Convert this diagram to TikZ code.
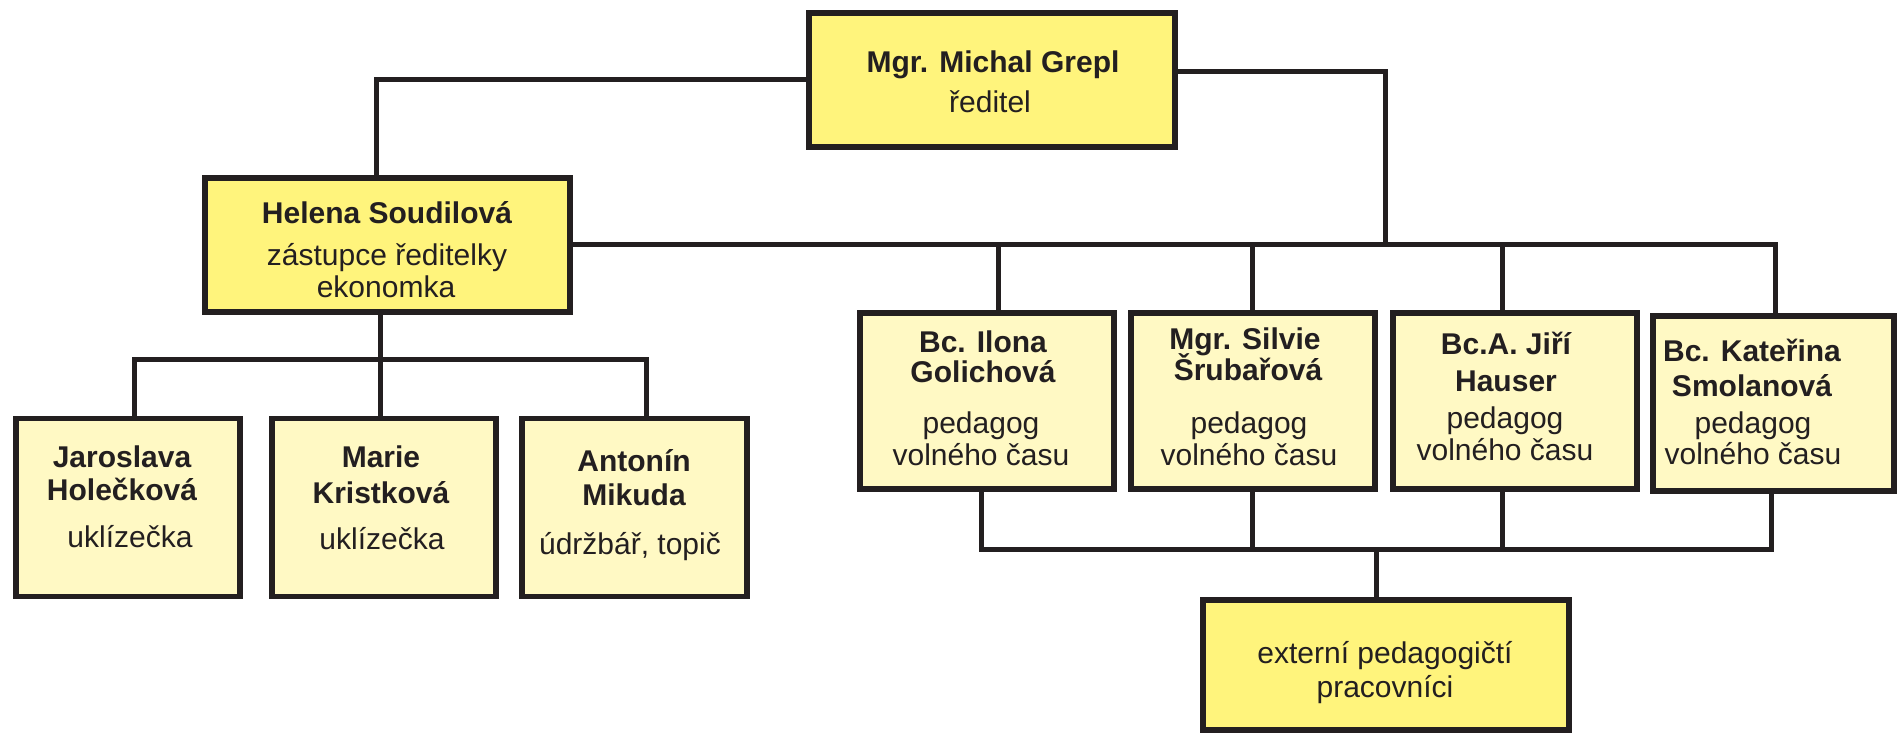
\documentclass[tikz,border=0pt]{standalone}
\usepackage{fontspec}
\setmainfont{Liberation Sans}
\definecolor{ink}{HTML}{231F20}
\definecolor{ybright}{HTML}{FFF47C}
\definecolor{ypale}{HTML}{FFF9C4}
\begin{document}
\begin{tikzpicture}[x=1pt,y=-1pt,
  box/.style={draw=ink, line width=5.5pt, inner sep=0pt, anchor=center},
  hi/.style={box, fill=ybright},
  lo/.style={box, fill=ypale},
  conn/.style={draw=ink, line width=5pt, line cap=rect, line join=miter},
  nm/.style={font=\fontsize{30}{32}\selectfont\bfseries, anchor=base, inner sep=0pt, text=ink},
  rl/.style={font=\fontsize{30}{32}\selectfont, anchor=base, inner sep=0pt, text=ink}]
\useasboundingbox[fill=white] (0,0) rectangle (1899,736);

% boxes
\node[hi, minimum width=366pt, minimum height=134pt] (dir) at (992,80) {};
\node[hi, minimum width=365pt, minimum height=134pt] (hel) at (387.5,245) {};
\node[lo, minimum width=224pt, minimum height=178pt] (jh) at (128,507.5) {};
\node[lo, minimum width=224pt, minimum height=178pt] (mk) at (384,507.5) {};
\node[lo, minimum width=225pt, minimum height=178pt] (am) at (634.5,507.5) {};
\node[lo, minimum width=254pt, minimum height=176pt] (ig) at (987,401) {};
\node[lo, minimum width=244pt, minimum height=176pt] (ss) at (1253,401) {};
\node[lo, minimum width=244pt, minimum height=176pt] (jhs) at (1515,401) {};
\node[lo, minimum width=241pt, minimum height=175pt] (ks) at (1773.5,403.5) {};
\node[hi, minimum width=366pt, minimum height=130pt] (ext) at (1386,665) {};

% junction coordinates
\coordinate (c1) at (376,79);
\coordinate (c2) at (1385,71);
\coordinate (d1) at (998,244);
\coordinate (d2) at (1252,244);
\coordinate (d3) at (1502,244);
\coordinate (d4) at (1775,244);
\coordinate (b1) at (981,549);
\coordinate (b2) at (1252,549);
\coordinate (b3) at (1502,549);
\coordinate (b4) at (1771,549);
\coordinate (bc) at (1376,549);
\coordinate (lj) at (380,359);
\coordinate (l1) at (134,359);
\coordinate (l3) at (646,359);

% connectors
\draw[conn] (dir.west |- c1) -- (c1) -- (c1 |- hel.north);
\draw[conn] (dir.east |- c2) -- (c2) -- (c2 |- d4);
\draw[conn] (hel.east |- d4) -- (d4) -- (d4 |- ks.north);
\draw[conn] (d1) -- (d1 |- ig.north);
\draw[conn] (d2) -- (d2 |- ss.north);
\draw[conn] (d3) -- (d3 |- jhs.north);
\draw[conn] (ig.south -| b1) -- (b1) -- (b4) -- (ks.south -| b4);
\draw[conn] (ss.south -| b2) -- (b2);
\draw[conn] (jhs.south -| b3) -- (b3);
\draw[conn] (bc) -- (bc |- ext.north);
\draw[conn] (hel.south -| lj) -- (lj);
\draw[conn] (jh.north -| l1) -- (l1) -- (l3) -- (l3 |- am.north);
\draw[conn] (lj) -- (lj |- mk.north);

% texts
\node[nm] (tdir1) at (993,72) {Mgr. Michal Grepl};
\node[rl] (tdir2) at (990,112) {ředitel};
\node[nm] (thel1) at (387,223) {Helena Soudilová};
\node[rl] (thel2) at (387,265) {zástupce ředitelky};
\node[rl] (thel3) at (386,297) {ekonomka};
\node[nm] (tjh1) at (122,467) {Jaroslava};
\node[nm] (tjh2) at (122,500) {Holečková};
\node[rl] (tjh3) at (130,547) {uklízečka};
\node[nm] (tmk1) at (381,467) {Marie};
\node[nm] (tmk2) at (381,503) {Kristková};
\node[rl] (tmk3) at (382,549) {uklízečka};
\node[nm] (tam1) at (634,471) {Antonín};
\node[nm] (tam2) at (634,505) {Mikuda};
\node[rl] (tam3) at (630,554) {údržbář, topič};
\node[nm] (tig1) at (983,352) {Bc. Ilona};
\node[nm] (tig2) at (983,382) {Golichová};
\node[rl] (tig3) at (981,433) {pedagog};
\node[rl] (tig4) at (981,465) {volného času};
\node[nm] (tss1) at (1245,349) {Mgr. Silvie};
\node[nm] (tss2) at (1248,380) {Šrubařová};
\node[rl] (tss3) at (1249,433) {pedagog};
\node[rl] (tss4) at (1249,465) {volného času};
\node[nm] (tjhs1) at (1506,354) {Bc.A. Jiří};
\node[nm] (tjhs2) at (1506,391) {Hauser};
\node[rl] (tjhs3) at (1505,428) {pedagog};
\node[rl] (tjhs4) at (1505,460) {volného času};
\node[nm] (tks1) at (1752,361) {Bc. Kateřina};
\node[nm] (tks2) at (1752,396) {Smolanová};
\node[rl] (tks3) at (1753,433) {pedagog};
\node[rl] (tks4) at (1753,464) {volného času};
\node[rl] (text1) at (1385,663) {externí pedagogičtí};
\node[rl] (text2) at (1385,697) {pracovníci};
\end{tikzpicture}
\end{document}
